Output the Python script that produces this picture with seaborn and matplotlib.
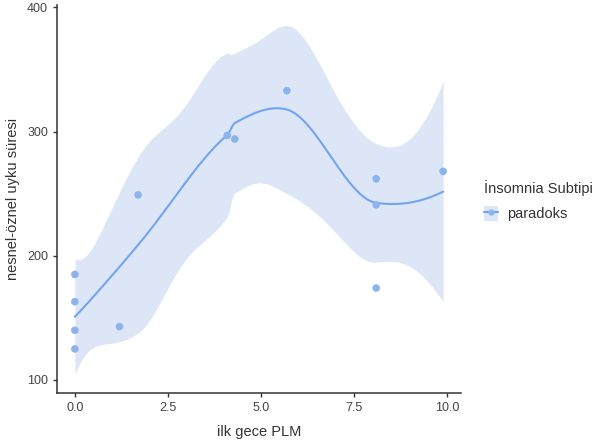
import math
import numpy as np
import pandas as pd
import matplotlib
matplotlib.use("Agg")
import matplotlib.pyplot as plt
import seaborn as sns
from matplotlib.patches import Patch
from matplotlib.lines import Line2D

plm = [0.0, 0.0, 0.0, 0.0, 1.2, 1.7, 4.1, 4.3, 5.7, 8.1, 8.1, 8.1, 9.9]
sleep = [185, 163, 140, 125, 143, 249, 297, 294, 333, 262, 241, 174, 268]
subtype = ["paradoks"] * len(plm)

df = pd.DataFrame({"ilk gece PLM": plm, "nesnel-öznel uyku süresi": sleep,
                   "İnsomnia Subtipi": subtype})


def t_ppf(p, nu):
    c = math.gamma((nu + 1) / 2) / (math.sqrt(nu * math.pi) * math.gamma(nu / 2))

    def cdf(t):
        u = np.linspace(0, t, 2001)
        return 0.5 + np.trapezoid(c * (1 + u ** 2 / nu) ** (-(nu + 1) / 2), u)

    a, b = 0.0, 20.0
    for _ in range(60):
        m = (a + b) / 2
        if cdf(m) < p:
            a = m
        else:
            b = m
    return (a + b) / 2


def local_rows(x, x0, q):
    # local quadratic fit with tricube weights -> operator rows (value, slope)
    n = len(x)
    d = np.abs(x - x0)
    h = np.sort(d)[q - 1]
    w = (1 - np.clip(d / h, 0, 1) ** 3) ** 3
    X = np.column_stack([np.ones(n), x - x0, (x - x0) ** 2])
    A = np.linalg.pinv(X.T @ (w[:, None] * X)) @ (X.T * w)
    return A[0], A[1]


def kd_vertices(xs, fc):
    # 1-d version of loess kd-tree cell splitting
    xs = np.sort(xs)
    n = len(xs)
    mu = 0.005 * (xs[-1] - xs[0])
    verts = {xs[0] - mu, xs[-1] + mu}

    def split(l, u, lo, hi):
        if u - l + 1 <= fc:
            return
        m = (l + u) // 2
        off = 0
        while l <= m + off < u:
            if xs[m + off] == xs[m + off + 1]:
                off = -off
                if off >= 0:
                    off += 1
            else:
                m = m + off
                break
        v = xs[m]
        if v == lo or v == hi:
            return
        verts.add(v)
        split(l, m, lo, v)
        split(m + 1, u, v, hi)

    split(0, n - 1, xs[0] - mu, xs[-1] + mu)
    return np.array(sorted(verts))


def loess_band(x, y, grid, span=0.75, level=0.95):
    x = np.asarray(x, float)
    y = np.asarray(y, float)
    n = len(x)
    q = int(np.floor(span * n))
    verts = kd_vertices(x, max(1, int(np.floor(n * span * 0.2))))
    vals, slopes = zip(*[local_rows(x, v, q) for v in verts])

    def interp_row(x0):
        i = np.clip(np.searchsorted(verts, x0) - 1, 0, len(verts) - 2)
        hh = verts[i + 1] - verts[i]
        t = (x0 - verts[i]) / hh
        h00 = 2 * t ** 3 - 3 * t ** 2 + 1
        h10 = t ** 3 - 2 * t ** 2 + t
        h01 = -2 * t ** 3 + 3 * t ** 2
        h11 = t ** 3 - t ** 2
        return (h00 * vals[i] + h10 * hh * slopes[i]
                + h01 * vals[i + 1] + h11 * hh * slopes[i + 1])

    L = np.array([interp_row(v) for v in x])
    R = np.eye(n) - L
    RR = R.T @ R
    d1 = np.trace(RR)
    d2 = np.trace(RR @ RR)
    s = np.sqrt(np.sum((R @ y) ** 2) / d1)
    tq = t_ppf(0.5 + level / 2, d1 ** 2 / d2)
    G = np.array([interp_row(v) for v in grid])
    fit = G @ y
    se = s * np.sqrt(np.sum(G ** 2, axis=1))
    return fit, fit - tq * se, fit + tq * se


grid = np.linspace(min(plm), max(plm), 200)
fit, lo, hi = loess_band(plm, sleep, grid)

sns.set_style("ticks")
plt.rcParams["font.family"] = ["Liberation Sans", "DejaVu Sans"]

fig = plt.figure(figsize=(5.92, 4.45), dpi=100)
ax = fig.add_axes([0.0963, 0.1169, 0.6824, 0.872])

point_col = "#8cb3ee"
line_col = "#72a4ef"
band_col = "#dce6f7"

ax.fill_between(grid, lo, hi, color=band_col, lw=0, zorder=1)
sns.lineplot(x=grid, y=fit, color=line_col, lw=1.5, ax=ax, zorder=2)
sns.scatterplot(data=df, x="ilk gece PLM", y="nesnel-öznel uyku süresi",
                color=point_col, s=30, edgecolor="none", ax=ax, zorder=3,
                legend=False)

ax.set_xlim(-0.48, 10.38)
ax.set_ylim(89.5, 402)
ax.set_xticks([0, 2.5, 5, 7.5, 10])
ax.set_xticklabels(["0.0", "2.5", "5.0", "7.5", "10.0"])
ax.set_yticks([100, 200, 300, 400])
sns.despine(ax=ax)
for sp in ["left", "bottom"]:
    ax.spines[sp].set_color("#333333")
    ax.spines[sp].set_linewidth(1.1)
ax.tick_params(colors="#333333", labelsize=9, length=3, width=1, labelcolor="#444444")
ax.set_xlabel("ilk gece PLM", fontsize=10.5, color="#333333", labelpad=8)
ax.set_ylabel("nesnel-öznel uyku süresi", fontsize=10.5, color="#333333", labelpad=5)

handle = (Patch(facecolor=band_col, edgecolor="none"),
          Line2D([], [], color=line_col, lw=1.5, marker="o", markersize=4.5,
                 markerfacecolor=point_col, markeredgecolor="none"))
leg = fig.legend([handle], ["paradoks"], title="İnsomnia Subtipi",
                 loc="upper left", bbox_to_anchor=(0.8085, 0.609), frameon=False,
                 fontsize=10.5, title_fontsize=10.5, handlelength=0.9,
                 handleheight=1.2, handletextpad=0.62, borderaxespad=0,
                 labelspacing=0.7)
leg._legend_box.align = "left"
leg.get_title().set_color("#333333")
for t in leg.get_texts():
    t.set_color("#333333")

fig.savefig("out.png", dpi=100)
